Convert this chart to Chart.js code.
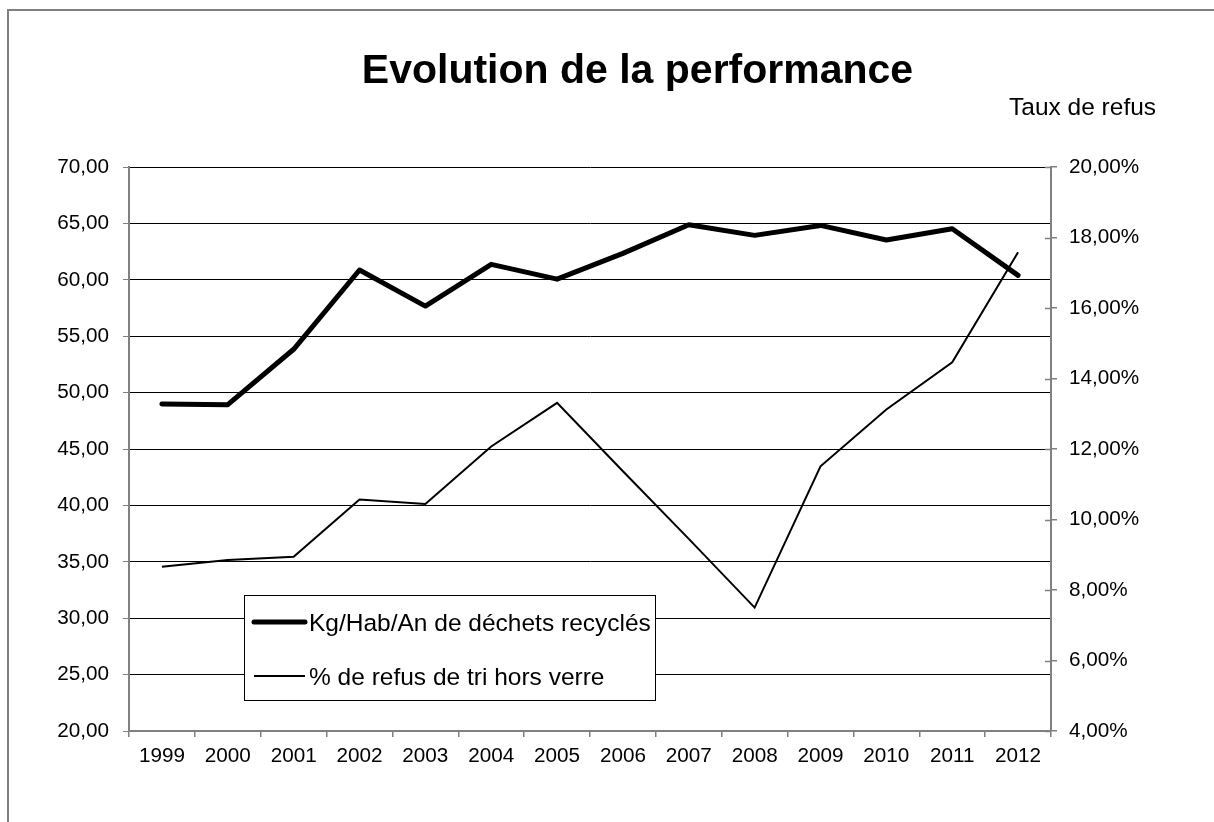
<!DOCTYPE html>
<html>
<head>
<meta charset="utf-8">
<script src="https://cdn.jsdelivr.net/npm/chart.js@4.4.1/dist/chart.umd.min.js"></script>
<style>
html,body{margin:0;padding:0;background:#fff;overflow:hidden;}
#wrap{width:1214px;height:822px;position:relative;}
</style>
</head>
<body>
<div id="wrap"><canvas id="c" width="1214" height="822"></canvas></div>
<script>
// ---- data ----
const years = ['1999','2000','2001','2002','2003','2004','2005','2006','2007','2008','2009','2010','2011','2012'];
const kgPerHab = [49.00, 48.93, 53.84, 60.87, 57.67, 61.37, 60.06, 62.34, 64.88, 63.94, 64.82, 63.53, 64.53, 60.39];
const refusPct = [8.66, 8.85, 8.94, 10.57, 10.44, 12.07, 13.31, 11.37, 9.45, 7.50, 11.51, 13.12, 14.46, 17.58];
const seriesLabels = ['Kg/Hab/An de déchets recyclés', '% de refus de tri hors verre'];
const titleText = 'Evolution de la performance';
const rightAxisTitle = 'Taux de refus';
const leftAxisRange = [20, 70, 5];
const rightAxisRange = [4, 20, 2];

// ---- styling ----
const FONT = '"Liberation Sans", Arial, Helvetica, sans-serif';
const GRAY = '#808080';
const TICK_SIZE = 20.7;

const fmt = v => Number(v).toFixed(2).replace('.', ',');

const decorPlugin = {
  id: 'decor',
  beforeDraw(chart) {
    const ctx = chart.ctx;
    ctx.save();
    ctx.fillStyle = '#fff';
    ctx.fillRect(0, 0, chart.width, chart.height);
    ctx.strokeStyle = GRAY;
    ctx.lineWidth = 2;
    ctx.strokeRect(8, 10, chart.width + 20, chart.height + 20);
    ctx.restore();
  },
  afterDraw(chart) {
    const ctx = chart.ctx;
    ctx.save();
    // main title
    ctx.fillStyle = '#000';
    ctx.font = 'bold 41px ' + FONT;
    ctx.textAlign = 'center';
    ctx.textBaseline = 'alphabetic';
    ctx.fillText(titleText, 637.5, 83);
    // right axis title
    ctx.font = '24.5px ' + FONT;
    ctx.textAlign = 'left';
    ctx.fillText(rightAxisTitle, 1009, 115);
    // inner tick marks of right axis (crossing ticks)
    const y1 = chart.scales.y1;
    ctx.strokeStyle = GRAY;
    ctx.lineWidth = 1.5;
    y1.ticks.forEach(t => {
      const py = Math.round(y1.getPixelForValue(t.value)) + 0.5;
      ctx.beginPath();
      ctx.moveTo(y1.left - 6, py);
      ctx.lineTo(y1.left, py);
      ctx.stroke();
    });
    // legend box
    const bx = 244.5, by = 595.5, bw = 411, bh = 105;
    ctx.fillStyle = '#fff';
    ctx.fillRect(bx, by, bw, bh);
    ctx.strokeStyle = '#000';
    ctx.lineWidth = 1;
    ctx.strokeRect(bx, by, bw, bh);
    const rows = [622, 676];
    chart.data.datasets.forEach((ds, i) => {
      const ry = rows[i];
      ctx.strokeStyle = ds.borderColor;
      ctx.lineWidth = ds.borderWidth;
      ctx.lineCap = i === 0 ? 'round' : 'butt';
      ctx.beginPath();
      ctx.moveTo(254, ry);
      ctx.lineTo(305, ry);
      ctx.stroke();
      ctx.fillStyle = '#000';
      ctx.font = '24.5px ' + FONT;
      ctx.textAlign = 'left';
      ctx.textBaseline = 'alphabetic';
      ctx.fillText(ds.label, 309, ry + 8.5);
    });
    ctx.restore();
  }
};

new Chart(document.getElementById('c'), {
  type: 'line',
  data: {
    labels: years,
    datasets: [
      {
        label: seriesLabels[0],
        data: kgPerHab,
        yAxisID: 'y',
        borderColor: '#000',
        borderWidth: 5,
        borderCapStyle: 'round',
        borderJoinStyle: 'round',
        pointRadius: 0,
        tension: 0,
        fill: false
      },
      {
        label: seriesLabels[1],
        data: refusPct,
        yAxisID: 'y1',
        borderColor: '#000',
        borderWidth: 2,
        borderJoinStyle: 'miter',
        pointRadius: 0,
        tension: 0,
        fill: false
      }
    ]
  },
  options: {
    responsive: false,
    animation: false,
    devicePixelRatio: 1,
    layout: { padding: { top: 167, left: 0, right: 0, bottom: 0 } },
    plugins: {
      legend: { display: false },
      title: { display: false },
      tooltip: { enabled: false }
    },
    scales: {
      x: {
        type: 'category',
        offset: true,
        grid: { offset: true, drawOnChartArea: false, tickLength: 6, tickColor: GRAY, lineWidth: 1.5 },
        border: { color: GRAY, width: 2 },
        ticks: { color: '#000', font: { family: FONT, size: TICK_SIZE }, padding: 7, maxRotation: 0, autoSkip: false },
        afterFit(s) { s.height = 91; }
      },
      y: {
        position: 'left',
        min: leftAxisRange[0],
        max: leftAxisRange[1],
        ticks: { stepSize: leftAxisRange[2], callback: v => fmt(v), color: '#000', font: { family: FONT, size: TICK_SIZE }, padding: 14 },
        grid: { color: '#000', lineWidth: 1, tickLength: 6, tickColor: GRAY },
        border: { color: GRAY, width: 2 },
        afterFit(s) { s.width = 129; }
      },
      y1: {
        position: 'right',
        min: rightAxisRange[0],
        max: rightAxisRange[1],
        ticks: { stepSize: rightAxisRange[2], callback: v => fmt(v) + '%', color: '#000', font: { family: FONT, size: TICK_SIZE }, padding: 12 },
        grid: { drawOnChartArea: false, tickLength: 6, tickColor: GRAY, lineWidth: 1.5 },
        border: { color: GRAY, width: 2 },
        afterFit(s) { s.width = 163; }
      }
    }
  },
  plugins: [decorPlugin]
});
</script>
</body>
</html>
